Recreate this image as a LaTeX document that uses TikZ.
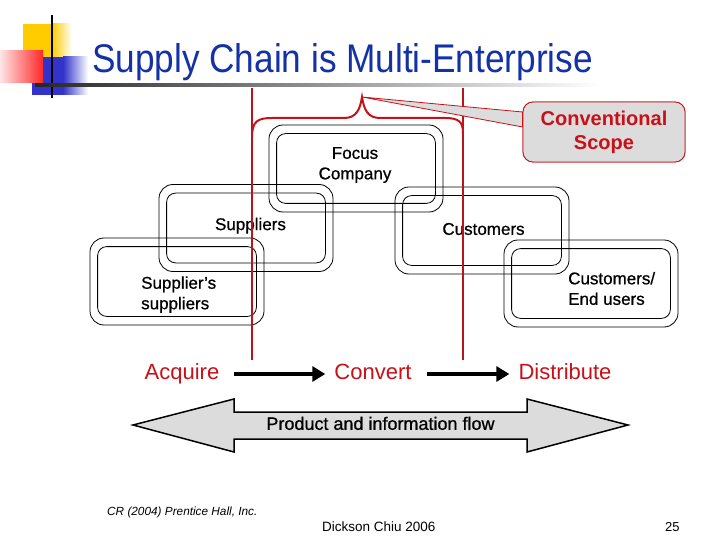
\documentclass[tikz,border=0pt]{standalone}
\usepackage{fontspec}
\setmainfont{Liberation Sans}
\newfontfamily\labelfont[FakeBold=0.7]{Liberation Sans}
\usetikzlibrary{arrows.meta}
\definecolor{scred}{RGB}{200,16,24}
\definecolor{linered}{RGB}{185,20,30}
\definecolor{titleblue}{RGB}{20,50,165}
\definecolor{flowgrey}{RGB}{220,220,220}
\definecolor{logoyellow}{RGB}{255,204,0}
\definecolor{logoblue}{RGB}{51,51,204}
\definecolor{logored}{RGB}{255,40,40}
\tikzset{
  ringbox/.style={draw, line width=0.8pt, rounded corners=14pt, minimum width=174pt, minimum height=87pt},
  ringline/.style={line width=0.8pt, rounded corners=9pt},
  boxlabel/.style={inner sep=0pt, align=center, font=\fontsize{17}{20.5}\labelfont\selectfont},
  stageword/.style={inner sep=0pt, text=scred, text height=16pt, text depth=5pt, font=\fontsize{22}{26}\selectfont},
  stagearrow/.style={line width=4.5pt, -{Triangle[length=13pt,width=15pt]}, shorten <=15pt, shorten >=9pt},
  scopeline/.style={linered, line width=1.5pt},
  scopebox/.style={draw=scred, line width=0.8pt, fill=flowgrey, rounded corners=10pt, minimum width=162pt, minimum height=60pt, text=scred, align=center, font=\fontsize{20}{24}\selectfont\bfseries}
}
\begin{document}
\begin{tikzpicture}[x=1pt, y=-1pt]
            \useasboundingbox (0,0) rectangle (720,540);
            \fill[white] (0,0) rectangle (720,540);
            \fill[logoyellow] (23,24) rectangle (52,57);
            \shade[left color=logoyellow, right color=white] (52,24) rectangle (72,57);
            \fill[logoblue] (32,57) rectangle (63,95);
            \shade[left color=logoblue, right color=white] (63,57) rectangle (88,95);
            \shade[left color=logored!12, right color=logored] (0,51) rectangle (43,83);
            \draw[line width=2pt] (52,15) -- (52,98);
            \shade[left color=black!85, right color=white] (35,84) rectangle (600,87);
            \node[anchor=base west, inner sep=0pt, text=titleblue, font=\fontsize{40}{48}\selectfont] (title) at (92,73) {\scalebox{0.88}[1]{Supply Chain is Multi-Enterprise}};
            \node[ringbox] (focus) at (356,168.5) {};
            \node[ringbox] (sup) at (246,228) {};
            \node[ringbox] (supsup) at (177,281.5) {};
            \node[ringbox] (cust) at (482,230.5) {};
            \node[ringbox] (enduser) at (591,283.5) {};
            \foreach \b in {focus,sup,supsup,cust,enduser}
                \draw[ringline] ([shift={(8pt,-9pt)}]\b.north west) rectangle ([shift={(-8pt,9pt)}]\b.south east);
            \node[boxlabel] (focustext) at (355,165) {Focus\\Company};
            \node[boxlabel] (suptext) at (250.5,225.7) {Suppliers};
            \node[boxlabel] (custtext) at (483.5,229) {Customers};
            \node[boxlabel, anchor=west, align=left] (supsuptext) at (141,294.6) {Supplier’s\\suppliers};
            \node[boxlabel, anchor=west, align=left] (endtext) at (568,288.5) {Customers/\\End users};
            \draw[scopeline] (252,88) -- (252,360);
            \draw[scopeline] (463,88) -- (463,360);
            \coordinate (bracetip) at (362,97);
            \draw[scred, line width=2pt] (252,137) .. controls (252,121) and (258,118) .. (272,118) -- (344,118) .. controls (356,118) and (360,110) .. (bracetip) .. controls (364,110) and (368,118) .. (380,118) -- (445,118) .. controls (459,118) and (463,122) .. (463,133);
            \node[scopebox] (scope) at (604,132) {};
            \filldraw[draw=scred, fill=flowgrey, line width=0.8pt] (bracetip) -- ([yshift=20pt]scope.west) -- ([yshift=5pt]scope.west) -- cycle;
            \node[scopebox] (scopetext) at (scope) {Conventional\\Scope};
            \node[stageword] (acquire) at (182,374) {Acquire};
            \node[stageword] (convert) at (373,374) {Convert};
            \node[stageword] (distribute) at (565,374) {Distribute};
            \draw[stagearrow] (acquire) -- (convert);
            \draw[stagearrow] (convert) -- (distribute);
            \filldraw[fill=flowgrey, line width=1.5pt] (133,425) -- (234,399) -- (234,412) -- (527,412) -- (527,399) -- (628,425) -- (527,452) -- (527,439) -- (234,439) -- (234,452) -- cycle;
            \node[inner sep=0pt, font=\fontsize{18}{22}\labelfont\selectfont] (flowtext) at (380.5,423.4) {Product and information flow};
            \node[anchor=base west, inner sep=0pt, font=\fontsize{11.8}{14}\selectfont\itshape] (credit) at (107,515.5) {CR (2004) Prentice Hall, Inc.};
            \node[anchor=base west, inner sep=0pt, font=\fontsize{13.5}{16}\selectfont] (author) at (322,531) {Dickson Chiu 2006};
            \node[anchor=base west, inner sep=0pt, font=\fontsize{13}{16}\selectfont] (page) at (665,531) {25};
        \end{tikzpicture}
\end{document}
